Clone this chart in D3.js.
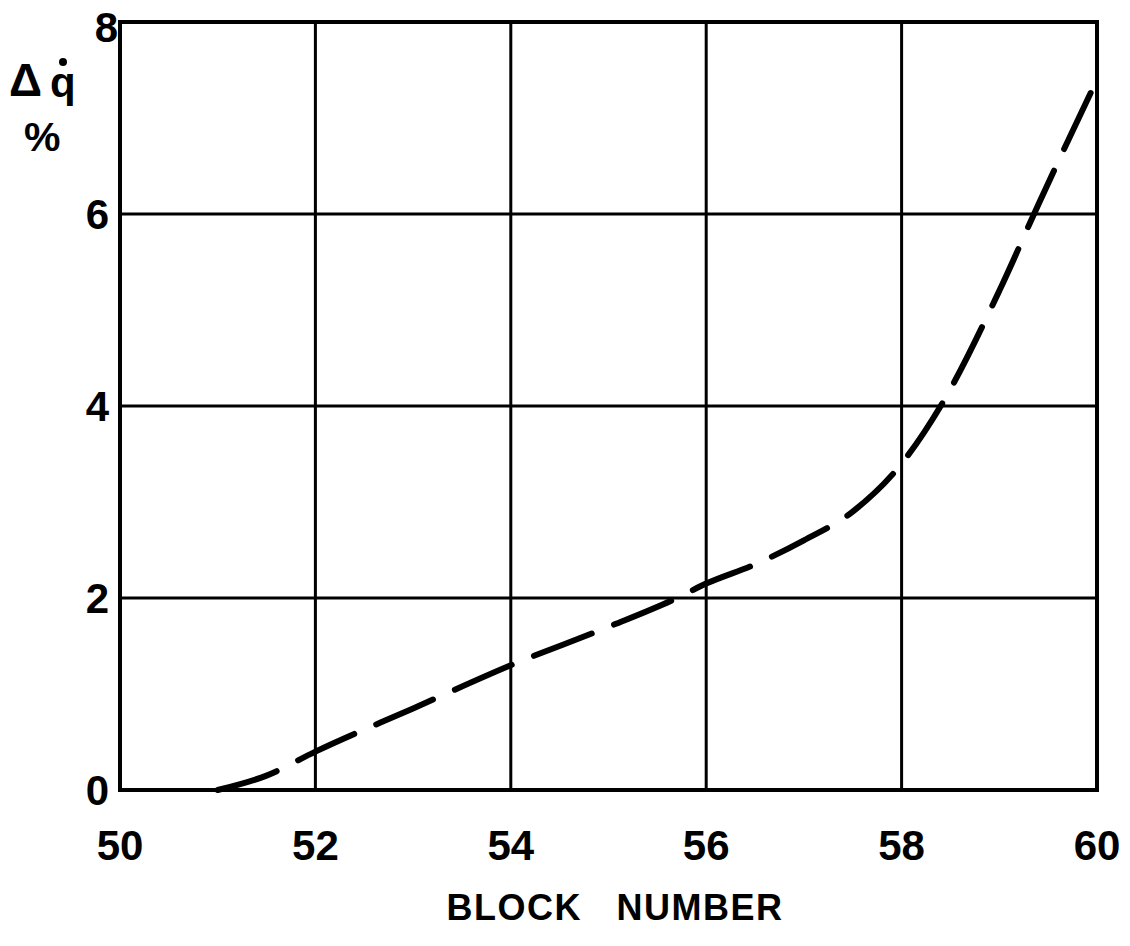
<!DOCTYPE html>
<html>
<head>
<meta charset="utf-8">
<script src="https://cdn.jsdelivr.net/npm/d3@7"></script>
<style>
  html, body { margin: 0; padding: 0; background: #fff; }
  svg { display: block; }
  text { font-family: "Liberation Sans", Arial, sans-serif; font-weight: bold; fill: #000; }
</style>
</head>
<body>
<svg id="chart" width="1130" height="946"></svg>
<script>
// Data
const blockNumber = [51, 51.5, 52, 53, 54, 55, 55.7, 56, 56.5, 57, 57.5, 58, 58.4, 59, 59.4, 60];
const deltaQ      = [0, 0.15, 0.4, 0.85, 1.3, 1.7, 2.0, 2.15, 2.35, 2.6, 2.9, 3.4, 4.0, 5.2, 6.1, 7.4];
const xTicks = [50, 52, 54, 56, 58, 60];
const yTicks = [0, 2, 4, 6, 8];
const xTitle = "BLOCK\u00a0\u00a0\u00a0NUMBER";

(function () {
const svg = d3.select("#chart");
const pLeft = 120, pRight = 1097, pTop = 22, pBottom = 790;

const x = d3.scaleLinear().domain([50, 60]).range([pLeft, pRight]);
const y = d3.scaleLinear().domain([0, 8]).range([pBottom, pTop]);

// grid
const g = svg.append("g");
g.selectAll(".vg").data(xTicks.slice(1, -1)).join("line")
  .attr("x1", d => x(d)).attr("x2", d => x(d))
  .attr("y1", pTop).attr("y2", pBottom)
  .attr("stroke", "#000").attr("stroke-width", 3);
g.selectAll(".hg").data(yTicks.slice(1, -1)).join("line")
  .attr("x1", pLeft).attr("x2", pRight)
  .attr("y1", d => y(d)).attr("y2", d => y(d))
  .attr("stroke", "#000").attr("stroke-width", 3);

// frame
g.append("rect").attr("x", pLeft).attr("y", pTop)
  .attr("width", pRight - pLeft).attr("height", pBottom - pTop)
  .attr("fill", "none").attr("stroke", "#000").attr("stroke-width", 4);

// x tick labels
svg.append("g").selectAll("text").data(xTicks).join("text")
  .attr("x", d => x(d)).attr("y", 860)
  .attr("text-anchor", "middle").attr("font-size", 42)
  .text(d => d);

// y tick labels
svg.append("g").selectAll("text").data(yTicks).join("text")
  .attr("x", d => d === 8 ? 118 : 109)
  .attr("y", d => y(d) + 15 + (d === 8 ? 5 : 0))
  .attr("text-anchor", "end").attr("font-size", 42)
  .text(d => d);

// y axis title
svg.append("text").attr("x", 9).attr("y", 96).attr("font-size", 46).text("\u0394");
svg.append("text").attr("x", 50).attr("y", 97).attr("font-size", 42).text("q");
svg.append("circle").attr("cx", 63).attr("cy", 62).attr("r", 4).attr("fill", "#000");
svg.append("text").attr("x", 24).attr("y", 151).attr("font-size", 41).text("%");

// x axis title
svg.append("text").attr("x", 615).attr("y", 920)
  .attr("text-anchor", "middle").attr("font-size", 36)
  .attr("letter-spacing", 1.5)
  .text(xTitle);

// curve
const pts = blockNumber.map((b, i) => [b, deltaQ[i]]);
const line = d3.line().x(d => x(d[0])).y(d => y(d[1])).curve(d3.curveMonotoneX);
svg.append("path").datum(pts)
  .attr("d", line)
  .attr("fill", "none").attr("stroke", "#000")
  .attr("stroke-width", 6).attr("stroke-linecap", "round")
  .attr("stroke-dasharray", "62,24");
})();
</script>
</body>
</html>
